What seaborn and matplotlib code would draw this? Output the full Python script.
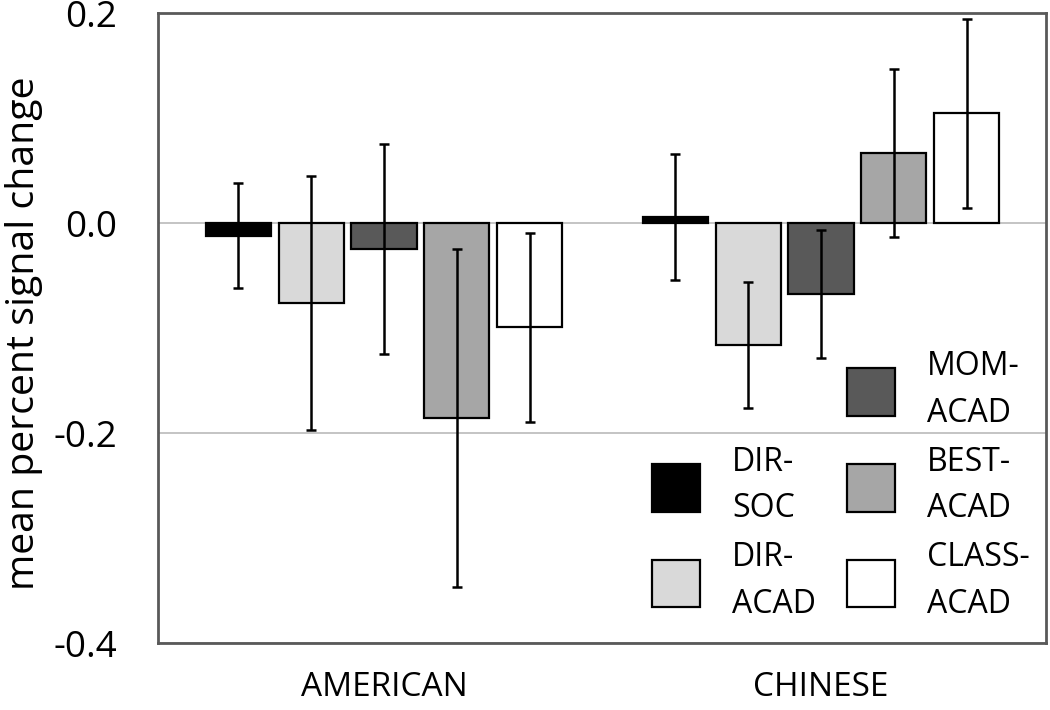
import numpy as np
import pandas as pd
import matplotlib
matplotlib.use("Agg")
import matplotlib.pyplot as plt
import seaborn as sns
from matplotlib.patches import Patch

# ── Data ─────────────────────────────────────────────────────────────────────
groups = ["AMERICAN", "CHINESE"]
conditions = ["DIR-SOC", "DIR-ACAD", "MOM-ACAD", "BEST-ACAD", "CLASS-ACAD"]
american_mean = [-0.012, -0.076, -0.024, -0.185, -0.099]
american_err = [0.050, 0.121, 0.100, 0.161, 0.090]
chinese_mean = [0.006, -0.116, -0.067, 0.067, 0.105]
chinese_err = [0.060, 0.060, 0.061, 0.080, 0.090]
bar_colors = ["#000000", "#d9d9d9", "#595959", "#a6a6a6", "#ffffff"]
yticks = [-0.4, -0.2, 0.0, 0.2]

df = pd.DataFrame({
    "group": np.repeat(groups, len(conditions)),
    "condition": conditions * len(groups),
    "mean": american_mean + chinese_mean,
    "err": american_err + chinese_err,
})

# ── Style ────────────────────────────────────────────────────────────────────
sns.set_theme(style="white")
plt.rcParams["font.family"] = ["Open Sans", "DejaVu Sans"]
plt.rcParams["axes.unicode_minus"] = False
plt.rcParams["text.color"] = "black"

FRAME = "#595959"

fig = plt.figure(figsize=(10.5, 7.1), dpi=100)
ax = fig.add_axes([0.1505, 0.0937, 0.8457, 0.8876])

sns.barplot(
    data=df, x="group", y="mean", hue="condition",
    order=groups, hue_order=conditions, palette=bar_colors,
    width=0.834, gap=0.107, errorbar=None, saturation=1,
    edgecolor="black", linewidth=1.6, legend=False, ax=ax, zorder=2,
)

# error bars, one container per condition
for cond, cont in zip(conditions, ax.containers):
    sub = df[df["condition"] == cond].set_index("group").loc[groups]
    xs = [b.get_x() + b.get_width() / 2 for b in cont]
    ax.errorbar(xs, sub["mean"], yerr=sub["err"], fmt="none",
                ecolor="black", elinewidth=1.8, capsize=3.4, capthick=1.8, zorder=3)

# ── Axes ─────────────────────────────────────────────────────────────────────
ax.set_xlim(-0.517, 1.515)
ax.set_ylim(-0.4, 0.2)
ax.set_yticks(yticks)
ax.set_yticklabels([f"{t:.1f}" for t in yticks])
ax.yaxis.grid(True, color="#bfbfbf", linewidth=1.3)
ax.set_axisbelow(True)
for s in ax.spines.values():
    s.set_color(FRAME)
    s.set_linewidth(2)
ax.tick_params(axis="y", direction="out", length=9.5, width=1.5, color=FRAME,
               pad=20, labelsize=26.5, labelcolor="black")
ax.tick_params(axis="x", length=0, pad=20, labelsize=24, labelcolor="black")
ax.set_xlabel("")
ax.set_ylabel("mean percent signal change", fontsize=28.3, color="black")
ax.yaxis.set_label_coords(-0.13, 0.492)

# ── Legend (two columns, top-left slot left empty) ───────────────────────────
blank = Patch(visible=False)
handles = [blank] + [Patch(facecolor=c, edgecolor="black", linewidth=1.6) for c in bar_colors]
# blank slot gets a two-line empty label so both columns line up
labels = [" \n "] + [c.replace("-", "-\n") for c in conditions]
leg = ax.legend(handles, labels, ncol=2, frameon=False, fontsize=23,
                loc="lower right", bbox_to_anchor=(1.007, 0.0), borderaxespad=0.3,
                handlelength=1.5, handleheight=1.93, handletextpad=1.0,
                labelspacing=0.5, columnspacing=0.97)
for t in leg.get_texts():
    t.set_linespacing(1.55)

fig.savefig("out.png", dpi=100)
